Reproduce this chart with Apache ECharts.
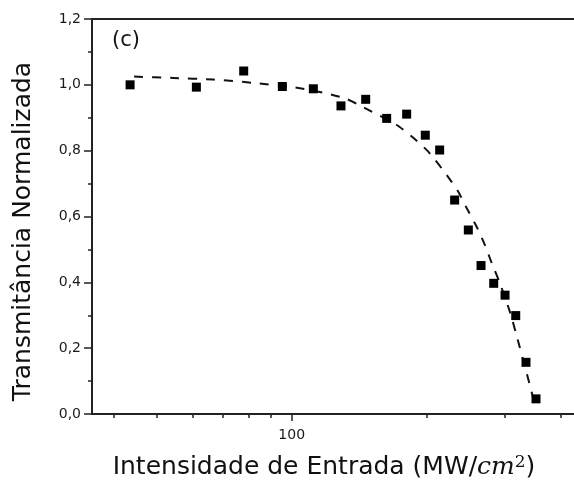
<!DOCTYPE html>
<html>
<head>
<meta charset="utf-8">
<style>
  html, body { margin: 0; padding: 0; background: #fff; }
  #chart { width: 574px; height: 491px; }
</style>
<script src="https://cdn.jsdelivr.net/npm/echarts@6/dist/echarts.min.js"></script>
</head>
<body>
<div id="chart"></div>
<script>
// ---- data ----
const intensity = [43.5, 61.2, 78.1, 95.3, 111.8, 128.9, 146.4, 163.1, 180.8, 199.0, 214.3, 231.5, 248.4, 265.2, 283.1, 300.1, 317.1, 334.3, 352.0];
const transmittance = [1.00, 0.993, 1.042, 0.995, 0.988, 0.936, 0.956, 0.898, 0.911, 0.847, 0.802, 0.650, 0.559, 0.451, 0.397, 0.361, 0.299, 0.157, 0.046];

const fitIntensity = [44.4, 54.3, 66.8, 82.0, 100.7, 119.8, 132.7, 144.6, 171.8, 187.1, 202.1, 222.3, 235.9, 246.4, 259.3, 270.6, 280.3, 291.4, 307.8, 319.7, 335.6, 350.2];
const fitTransmittance = [1.025, 1.021, 1.016, 1.006, 0.993, 0.974, 0.957, 0.932, 0.878, 0.839, 0.797, 0.726, 0.675, 0.625, 0.569, 0.513, 0.458, 0.402, 0.310, 0.230, 0.124, 0.027];

const xMinorTicks = [40, 50, 60, 70, 80, 90, 200, 300, 400];
const xMajorTicks = [100];
const xRange = [35.75, 428.1];
const yTicks = [0, 0.2, 0.4, 0.6, 0.8, 1.0, 1.2];

// ---- chart ----
const lg = v => Math.log10(v);
const chart = echarts.init(document.getElementById('chart'), null, { renderer: 'canvas' });
const axisColor = '#222';
const font = 'DejaVu Sans';

chart.setOption({
  animation: false,
  backgroundColor: '#fff',
  grid: { left: 92, top: 19, right: 0, bottom: 77 },
  xAxis: [
    {
      type: 'value', position: 'bottom',
      min: lg(xRange[0]), max: lg(xRange[1]),
      axisLine: { show: true, lineStyle: { color: axisColor, width: 2 } },
      axisTick: { show: true, inside: false, length: 4, customValues: xMinorTicks.map(lg), lineStyle: { color: axisColor, width: 1.5 } },
      axisLabel: { show: false },
      splitLine: { show: false },
      name: 'Intensidade de Entrada (MW/{it|cm}{sup|2})',
      nameLocation: 'middle',
      nameGap: 40,
      nameTextStyle: {
        fontFamily: font, fontSize: 25, color: '#111', padding: [0, 18, 0, 0],
        rich: {
          it: { fontFamily: 'DejaVu Serif', fontStyle: 'italic', fontSize: 25, color: '#111' },
          sup: { fontFamily: 'DejaVu Serif', fontSize: 17, color: '#111', verticalAlign: 'top', padding: [0, 0, 10, 0] }
        }
      }
    },
    {
      type: 'value', position: 'bottom',
      min: lg(xRange[0]), max: lg(xRange[1]),
      axisLine: { show: false },
      axisTick: { show: true, inside: false, length: 7, customValues: xMajorTicks.map(lg), lineStyle: { color: axisColor, width: 1.5 } },
      axisLabel: {
        show: true, customValues: xMajorTicks.map(lg), margin: 14,
        fontFamily: font, fontSize: 14, color: '#1a1a1a',
        formatter: v => String(Math.round(Math.pow(10, v)))
      },
      splitLine: { show: false }
    },
    {
      type: 'value', position: 'top',
      min: lg(xRange[0]), max: lg(xRange[1]),
      axisLine: { show: true, lineStyle: { color: axisColor, width: 2 } },
      axisTick: { show: false }, axisLabel: { show: false }, splitLine: { show: false }
    }
  ],
  yAxis: {
    type: 'value', min: 0, max: 1.2, interval: 0.2,
    axisLine: { show: true, lineStyle: { color: axisColor, width: 2 } },
    axisTick: { show: true, inside: false, length: 8, lineStyle: { color: axisColor, width: 1.5 } },
    minorTick: { show: true, splitNumber: 2, length: 4, lineStyle: { color: axisColor, width: 1.5 } },
    axisLabel: {
      margin: 11, fontFamily: font, fontSize: 14, color: '#1a1a1a',
      customValues: yTicks,
      formatter: v => v.toFixed(1).replace('.', ',')
    },
    splitLine: { show: false },
    name: 'Transmitância Normalizada',
    nameLocation: 'middle',
    nameRotate: 90,
    nameGap: 56,
    nameTextStyle: { fontFamily: font, fontSize: 25, color: '#111', padding: [0, 30, 0, 0] }
  },
  graphic: [
    { type: 'text', left: 112, top: 30, style: { text: '(c)', fontFamily: font, fontSize: 21, fill: '#111' } }
  ],
  series: [
    {
      type: 'line', xAxisIndex: 0,
      data: fitIntensity.map((v, i) => [lg(v), fitTransmittance[i]]),
      showSymbol: false, smooth: 0.2,
      lineStyle: { color: '#111', width: 2, type: [9, 9] },
      z: 2
    },
    {
      type: 'scatter', xAxisIndex: 0,
      data: intensity.map((v, i) => [lg(v), transmittance[i]]),
      symbol: 'rect', symbolSize: 9,
      itemStyle: { color: '#000', opacity: 1 },
      z: 3
    }
  ]
});
</script>
</body>
</html>
